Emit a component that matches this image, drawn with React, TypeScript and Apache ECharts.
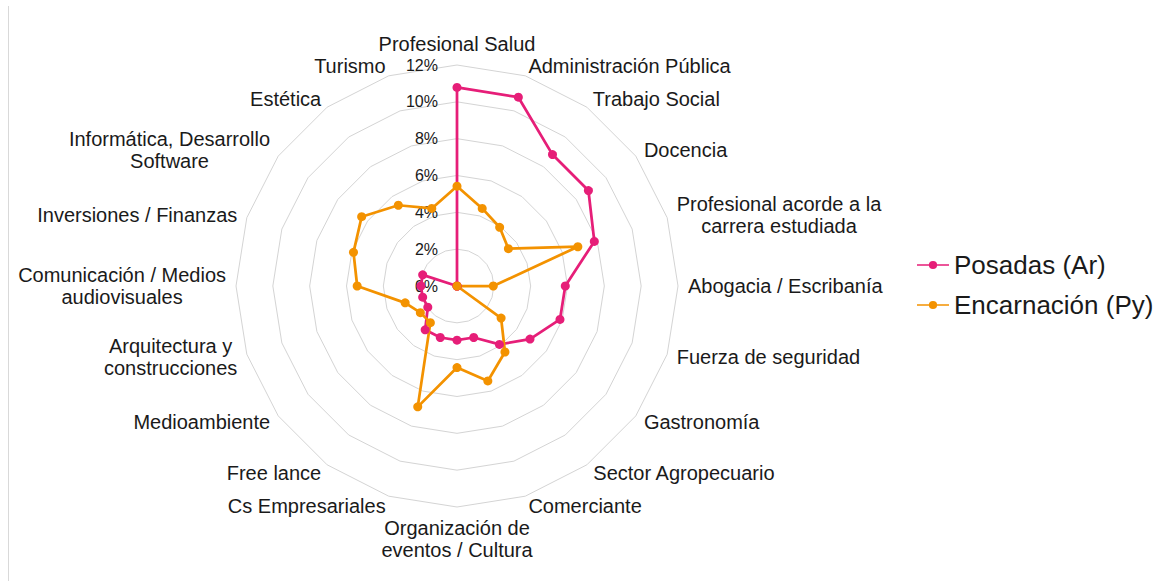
import React, { useEffect, useRef } from 'react';
import * as echarts from 'echarts';

const categories = [
  'Profesional Salud',
  'Administración Pública',
  'Trabajo Social',
  'Docencia',
  'Profesional acorde a la\ncarrera estudiada',
  'Abogacia / Escribanía',
  'Fuerza de seguridad',
  'Gastronomía',
  'Sector Agropecuario',
  'Comerciante',
  'Organización de\neventos / Cultura',
  'Cs Empresariales',
  'Free lance',
  'Medioambiente',
  'Arquitectura y\nconstrucciones',
  'Comunicación / Medios\naudiovisuales',
  'Inversiones / Finanzas',
  'Informática, Desarrollo\nSoftware',
  'Estética',
  'Turismo',
];

const posadas = [10.78, 10.78, 8.82, 8.82, 7.84, 5.88, 5.88, 4.9, 3.92, 2.94, 2.94, 2.94, 2.94, 1.96, 1.96, 1.96, 1.96, 0, 0, 0];
const encarnacion = [5.42, 4.43, 3.94, 3.45, 6.9, 1.97, 0, 2.96, 4.43, 5.42, 4.43, 6.9, 2.46, 2.46, 2.96, 5.42, 5.91, 6.4, 5.42, 4.43];

const seriesNames = ['Posadas (Ar)', 'Encarnación (Py)'];
const seriesColors = ['#E61E78', '#F39200'];
const axisMin = 0;
const axisMax = 12;
const splitCount = 6;

export default function App() {
  const ref = useRef<HTMLDivElement>(null);

  useEffect(() => {
    const chart = echarts.init(ref.current as HTMLDivElement, null, { renderer: 'svg' });
    const font = "'Liberation Sans', Arial, sans-serif";
    const textColor = '#1a1a1a';
    // ECharts lays indicators counter-clockwise; reorder so they read clockwise.
    const order = [0, ...categories.map((_, i) => i).slice(1).reverse()];
    const legendIcon = 'path://M0,4.2H35V5.8H0Z M22,5A4.5,4.5 0 1,1 13,5A4.5,4.5 0 1,1 22,5Z';

    chart.setOption({
      animation: false,
      backgroundColor: '#ffffff',
      textStyle: { fontFamily: font },
      graphic: [
        {
          type: 'line',
          shape: { x1: 8.5, y1: 6, x2: 8.5, y2: 581 },
          style: { stroke: '#d9d9d9', lineWidth: 1 },
          silent: true,
        },
      ],
      legend: {
        orient: 'vertical',
        left: 912,
        top: 247,
        itemWidth: 32,
        itemHeight: 9,
        itemGap: 14,
        data: seriesNames.map((n) => ({ name: n, icon: legendIcon })),
        textStyle: { fontSize: 26, color: textColor, fontFamily: font },
        itemStyle: { borderWidth: 0 },
      },
      radar: {
        center: [457, 286],
        radius: 221,
        startAngle: 90,
        shape: 'polygon',
        splitNumber: splitCount,
        nameGap: 10,
        indicator: order.map((idx, k) => ({
          name: categories[idx],
          min: axisMin,
          max: axisMax,
          ...(k === 0 ? { axisLabel: { show: true } } : {}),
        })),
        axisName: {
          color: textColor,
          fontSize: 20,
          fontFamily: font,
          formatter: (name: string) =>
            name
              .split('\n')
              .map((l) => `{c|${l}}`)
              .join('\n'),
          rich: {
            c: { align: 'center', fontSize: 20, lineHeight: 22, color: textColor, fontFamily: font },
          },
        },
        axisLine: { show: false },
        axisTick: { show: false },
        axisLabel: {
          show: false,
          margin: 19,
          fontSize: 16,
          color: textColor,
          fontFamily: font,
          formatter: (v: number) => `${v}%`,
        },
        splitLine: { lineStyle: { color: '#d4d4d4', width: 1 } },
        splitArea: { show: false },
      },
      series: [
        {
          type: 'radar',
          symbol: 'circle',
          symbolSize: 9,
          data: [
            {
              name: seriesNames[0],
              value: order.map((i) => posadas[i]),
              lineStyle: { color: seriesColors[0], width: 2.75 },
              itemStyle: { color: seriesColors[0] },
            },
            {
              name: seriesNames[1],
              value: order.map((i) => encarnacion[i]),
              lineStyle: { color: seriesColors[1], width: 2.75 },
              itemStyle: { color: seriesColors[1] },
            },
          ],
        },
      ],
    });

    return () => {
      chart.dispose();
    };
  }, []);

  return (
    <div
      ref={ref}
      style={{ position: 'fixed', left: 0, top: 0, width: 1169, height: 581, background: '#fff' }}
    />
  );
}
